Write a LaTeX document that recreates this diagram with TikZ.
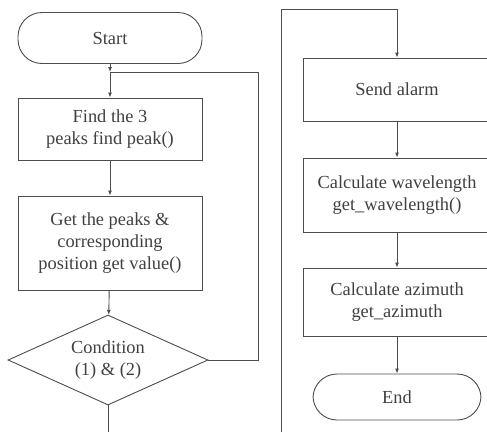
\documentclass[tikz,border=0pt]{standalone}
\usepackage{fontspec}
\setmainfont{Liberation Serif}
\usetikzlibrary{positioning,arrows.meta,shapes.geometric}
\usepackage{xcolor}

\begin{document}
\begin{tikzpicture}[x=1pt,y=-1pt,
  line width=0.9pt,draw=black!70,
  every node/.style={font=\fontsize{18.4}{22}\selectfont,text=black!75,align=center},
  proc/.style={draw=black!70,rectangle,minimum width=184pt,inner sep=2pt},
  term/.style={draw=black!70,rectangle,rounded corners=24pt,minimum height=48pt},
  cond/.style={draw=black!70,diamond,aspect=2.2,inner sep=0pt,minimum width=200pt,minimum height=90pt},
  flow/.style={-{Latex[length=5pt,width=4pt]}}]
\clip (0,0) rectangle (487,432);
\node[term,minimum width=184pt,minimum height=51pt] (start) at (110,38) {Start};
\node[proc,minimum height=62pt] (find) at (110,129) {Find the 3\\peaks find peak()};
\node[proc,minimum height=94pt] (getval) at (110,243) {Get the peaks \&\\corresponding\\position get value()};
\node[cond] (check) at (108,360) {Condition\\(1) \& (2)};
\coordinate (j) at (start.south |- 0,72);
\coordinate (jr) at (258,72);
\coordinate (down) at (check.south |- 0,432);
\draw[flow] (start) -- (j);
\draw[flow] (j) -- (find);
\draw[flow] (find) -- (getval);
\draw[flow] (getval) -- (check);
\draw (check.east) -- (jr |- check.east) -- (jr) -- (j);
\draw (check.south) -- (down);
% second column
\node[proc,minimum width=188pt,minimum height=63pt] (alarm) at (397,89.5) {Send alarm};
\node[proc,minimum width=188pt,minimum height=74pt] (wave) at (397,195) {Calculate wavelength\\get\_wavelength()};
\node[proc,minimum width=188pt,minimum height=68pt] (azim) at (397,302) {Calculate azimuth\\get\_azimuth};
\node[term,minimum width=168pt,minimum height=46pt] (end) at (397,397) {End};
\coordinate (up) at (281,432);
\coordinate (topl) at (281,9);
\draw[flow] (up) -- (topl) -- (alarm.north |- topl) -- (alarm);
\draw[flow] (alarm) -- (wave);
\draw[flow] (wave) -- (azim);
\draw[flow] (azim) -- (end);
\end{tikzpicture}
\end{document}
